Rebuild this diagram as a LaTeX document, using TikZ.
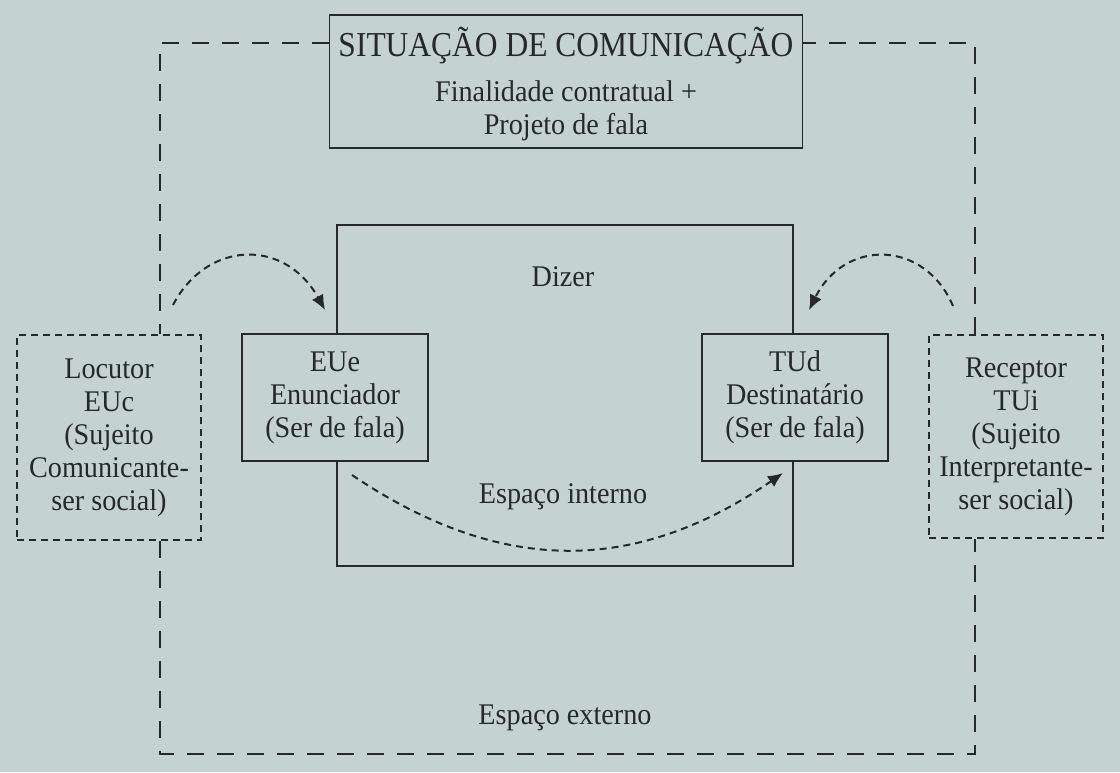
\documentclass[tikz,border=0pt]{standalone}
\usepackage{fontspec}
\setmainfont{Liberation Serif}
\newfontfamily\titlefont[FakeStretch=0.9]{Liberation Serif}
\newfontfamily\bodyfont[FakeStretch=0.94]{Liberation Serif}
\usetikzlibrary{arrows.meta}
\definecolor{bg}{RGB}{196,211,209}
\definecolor{ink}{RGB}{40,40,40}
\begin{document}
\begin{tikzpicture}[x=1pt,y=-1pt,
  txt/.style={text=ink,font=\bodyfont\fontsize{30}{33}\selectfont,align=center,inner sep=0pt},
  solidbox/.style={draw=ink,line width=1.4pt,rectangle,inner sep=0pt,txt},
  dashbox/.style={draw=ink,line width=1.8pt,dash pattern=on 7pt off 5pt,rectangle,inner sep=0pt,txt},
  outerdash/.style={draw=ink,line width=2.4pt,dash pattern=on 17pt off 13pt},
  curvearrow/.style={draw=ink,line width=2pt,dash pattern=on 7pt off 5pt,-{Latex[length=15pt,width=13pt]}}
]
\useasboundingbox (0,0) rectangle (1120,772);
\fill[bg] (0,0) rectangle (1120,772);

% inner (Dizer) box
\node[solidbox,minimum width=456pt,minimum height=341pt] (dizer) at (565,395.5) {};
\node[txt] (dizertxt) at (563,277) {Dizer};
\node[txt] (interno) at (563,497) {Espaço interno};

% top box
\node[solidbox,minimum width=473pt,minimum height=133pt] (sit) at (566,81.5) {};
\node[txt,font=\titlefont\fontsize{35}{38}\selectfont] (title) at (566,46) {SITUAÇÃO DE COMUNICAÇÃO};
\node[txt] (fin) at (566,111) {Finalidade contratual +\\Projeto de fala};

% speaker boxes
\node[solidbox,fill=bg,minimum width=186pt,minimum height=127pt] (eue) at (335,397.5) {EUe\\Enunciador\\(Ser de fala)};
\node[solidbox,fill=bg,minimum width=186pt,minimum height=127pt] (tud) at (795,397.5) {TUd\\Destinatário\\(Ser de fala)};

% dashed side boxes
\node[dashbox,minimum width=184pt,minimum height=205pt] (loc) at (109,437.5) {Locutor\\EUc\\(Sujeito\\Comunicante-\\ser social)};
\node[dashbox,minimum width=174pt,minimum height=203pt] (rec) at (1016,436.5) {Receptor\\TUi\\(Sujeito\\Interpretante-\\ser social)};

% outer frame corners
\coordinate (tl) at (160,43);
\coordinate (tr) at (975,43);
\coordinate (bl) at (160,754);
\coordinate (br) at (975,754);
\draw[outerdash] (sit.west |- tl) -- (tl) -- (tl |- loc.north);
\draw[outerdash] (tl |- loc.south) -- (bl) -- (br) -- (br |- rec.south);
\draw[outerdash] (br |- rec.north) -- (tr) -- (sit.east |- tr);
\node[txt] (externo) at (565,718) {Espaço externo};

% curved arrows
\coordinate (a1s) at (173,305);
\coordinate (a1e) at (325,310);
\coordinate (a2s) at (953,306);
\coordinate (a2e) at (809,310);
\coordinate (a3s) at (352,475);
\coordinate (a3e) at (783,473);
\draw[curvearrow] (a1s) .. controls (207,240) and (285,238) .. (a1e);
\draw[curvearrow] (a2s) .. controls (925,240) and (845,238) .. (a2e);
\draw[curvearrow] (a3s) .. controls (500,575) and (635,575) .. (a3e);
\end{tikzpicture}
\end{document}
